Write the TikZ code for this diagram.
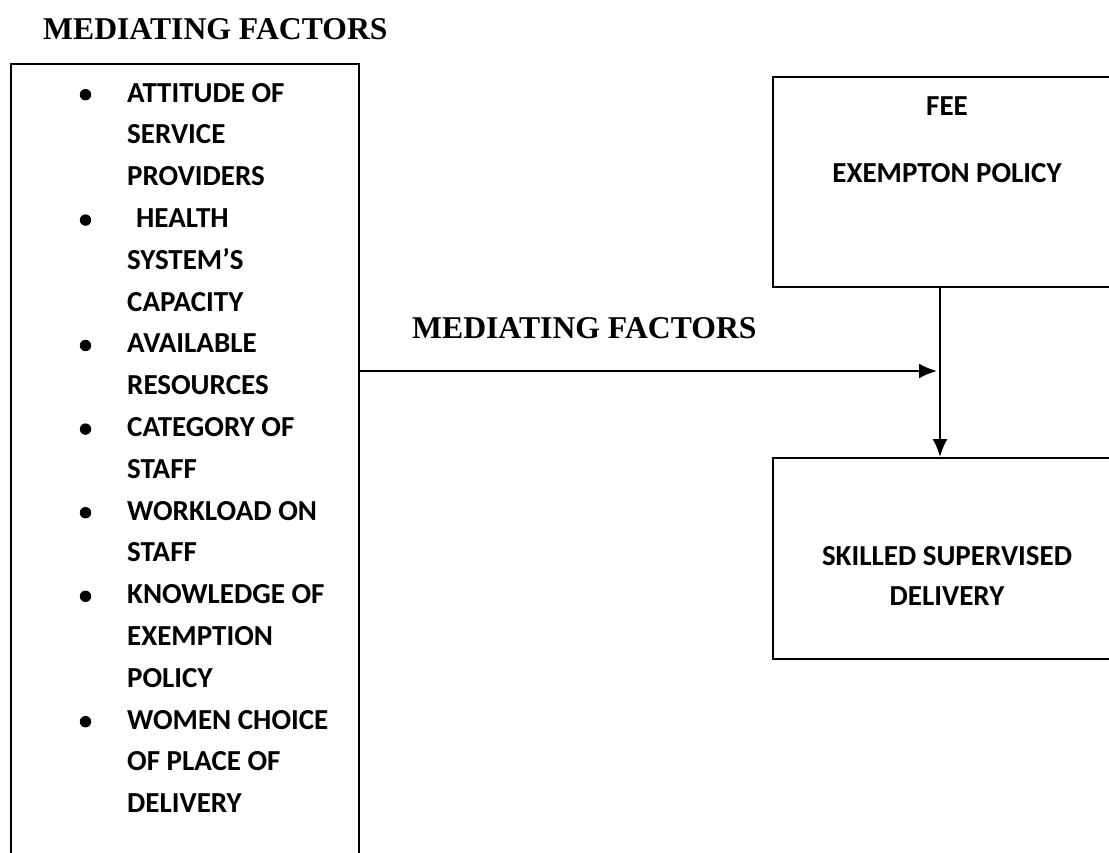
\documentclass[tikz,border=0pt]{standalone}
\usepackage{fontspec}
\setmainfont{Liberation Serif}
\newfontfamily\calibri{Carlito}
\usetikzlibrary{arrows.meta}

\begin{document}
\begin{tikzpicture}[x=1pt,y=-1pt]
			\tikzstyle{every node}=[inner sep=0pt]
			\tikzstyle{box}=[draw,rectangle,line width=2pt,anchor=north west]
			\tikzstyle{heading}=[font=\fontsize{31.7}{38}\selectfont\bfseries,anchor=base west]
			\tikzstyle{boxtext}=[font=\calibri\bfseries\fontsize{29}{41.8}\selectfont]
			\tikzstyle{conn}=[line width=2.2pt,-{Latex[length=18pt,width=15pt]}]
			\clip (0,0) rectangle (1109,853);
			% headings
			\node[heading] (head) at (43,40) {MEDIATING FACTORS};
			\node[heading] (midhead) at (412,338) {MEDIATING FACTORS};
			% boxes
			\node[box,minimum width=348pt,minimum height=840pt] (factors) at (10,63) {};
			\node[box,minimum width=350pt,minimum height=210pt] (fee) at (772,76) {};
			\node[box,minimum width=350pt,minimum height=201pt] (ssd) at (772,457) {};
			% texts (base = last line)
			\node[boxtext,align=left,anchor=base west] (factlist) at (127,812.6) {ATTITUDE OF\\SERVICE\\PROVIDERS\\
				\hspace{9pt}HEALTH\\SYSTEM’S\\CAPACITY\\AVAILABLE\\RESOURCES\\CATEGORY OF\\STAFF\\
				WORKLOAD ON\\STAFF\\KNOWLEDGE OF\\EXEMPTION\\POLICY\\WOMEN CHOICE\\OF PLACE OF\\DELIVERY};
			\foreach \k in {0,3,6,8,10,12,15}
				\fill (85.5,{102+\k*41.8-7.3}) circle (5.7);
			\node[boxtext,align=center,anchor=base,font=\calibri\bfseries\fontsize{29}{67}\selectfont] (feetext) at (947,183) {FEE\\EXEMPTON POLICY};
			\node[boxtext,align=center,anchor=base,font=\calibri\bfseries\fontsize{29}{40}\selectfont] (ssdtext) at (947,605) {SKILLED SUPERVISED\\DELIVERY};
			% connectors
			\coordinate (meet) at (940,371);
			\draw[conn] (factors.east |- meet) -- ([xshift=-3pt]meet);
			\draw[conn] (fee.south -| meet) -- (ssd.north -| meet);
\end{tikzpicture}
\end{document}
